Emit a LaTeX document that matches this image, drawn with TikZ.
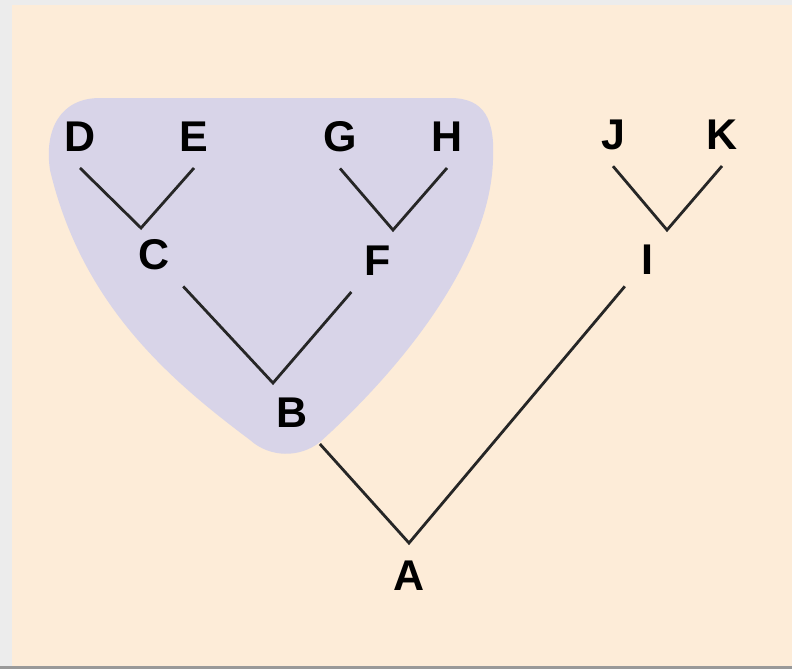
\documentclass[tikz,border=0pt]{standalone}
\usepackage{fontspec}
\setmainfont{Liberation Sans}
\usetikzlibrary{positioning}
\definecolor{peach}{HTML}{FDECD8}
\definecolor{blobcol}{HTML}{D8D4E8}
\definecolor{framegray}{HTML}{ECECEC}
\definecolor{linecol}{HTML}{262626}
\tikzset{
  taxon/.style={font=\fontsize{43}{43}\selectfont\bfseries, inner sep=16pt},
  branch/.style={draw=linecol, line width=2.8pt}
}
\begin{document}
\begin{tikzpicture}[x=1pt, y=-1pt, on grid]
        % background and frame
        \fill[framegray] (0,0) rectangle (792,669);
        \fill[peach] (12,5) rectangle (792,666);
        \fill[black!40] (0,666) rectangle (792,669);
        \useasboundingbox (0,0) rectangle (792,669);
        % shaded clade
        \fill[blobcol] (100,98) -- (450,98)
          .. controls (485,98) and (495,120) .. (493,160)
          .. controls (490,260) and (400,370) .. (320,442)
          .. controls (300,458) and (270,458) .. (250,440)
          .. controls (170,380) and (82,305) .. (50,170)
          .. controls (44,130) and (60,98) .. (100,98) -- cycle;

        \node[taxon] (A) at (409,576) {A};
        \node[taxon] (B) [above left=163pt and 117pt of A] {B};
        \node[taxon] (I) [above right=316pt and 238pt of A] {I};
        \node[taxon] (C) [above left=158pt and 138pt of B] {C};
        \node[taxon] (F) [above right=152pt and 86pt of B] {F};
        \node[taxon] (D) [above left=118pt and 74pt of C] {D};
        \node[taxon] (E) [above right=118pt and 40pt of C] {E};
        \node[taxon] (G) [above left=124pt and 38pt of F] {G};
        \node[taxon] (H) [above right=124pt and 69pt of F] {H};
        \node[taxon] (J) [above left=125pt and 34pt of I] {J};
        \node[taxon] (K) [above right=125pt and 75pt of I] {K};

        \coordinate[above=33pt of A] (jA);
        \coordinate[above left=30pt and 19pt of B] (jB);
        \coordinate[above left=27pt and 13pt of C] (jC);
        \coordinate[above right=31pt and 15pt of F] (jF);
        \coordinate[above right=30pt and 20pt of I] (jI);

        \draw[branch] (B) -- (jA) -- (I);
        \draw[branch] (C) -- (jB) -- (F);
        \draw[branch] (D.south) -- (jC) -- (E.south);
        \draw[branch] (G.south) -- (jF) -- (H.south);
        \draw[branch] (J.south) -- (jI) -- (K.south);
    \end{tikzpicture}
\end{document}
